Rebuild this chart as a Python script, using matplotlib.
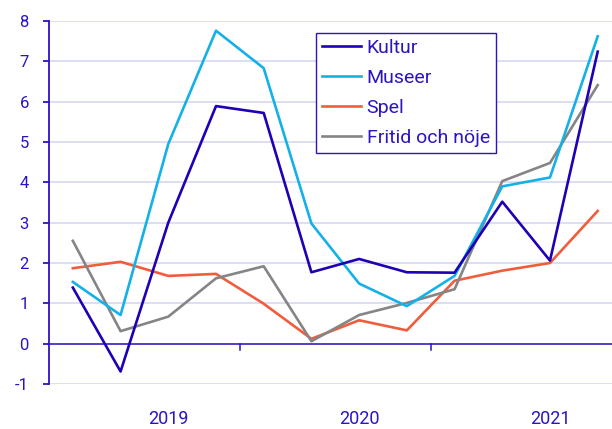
import matplotlib
matplotlib.use('Agg')
import matplotlib.pyplot as plt
import matplotlib.transforms as mtransforms
import numpy as np

plt.rcParams['font.family'] = ['Roboto', 'DejaVu Sans']

# quarterly values, 2019Q1 - 2021Q4
quarters = ['2019Q1', '2019Q2', '2019Q3', '2019Q4',
            '2020Q1', '2020Q2', '2020Q3', '2020Q4',
            '2021Q1', '2021Q2', '2021Q3', '2021Q4']
kultur = [1.39, -0.69, 3.0, 5.89, 5.72, 1.77, 2.1, 1.77, 1.76, 3.52, 2.06, 7.24]
museer = [1.53, 0.71, 4.95, 7.76, 6.83, 2.98, 1.49, 0.93, 1.68, 3.9, 4.12, 7.62]
spel = [1.87, 2.03, 1.68, 1.73, 0.99, 0.12, 0.58, 0.33, 1.56, 1.81, 2.0, 3.29]
fritid = [2.55, 0.31, 0.67, 1.62, 1.92, 0.06, 0.71, 1.01, 1.35, 4.03, 4.48, 6.41]
years = ['2019', '2020', '2021']

txt_col = '#2a14c4'
grid_col = '#d8d8f0'

fig = plt.figure(figsize=(6.12, 4.29), dpi=100)
ax = fig.add_axes([49/612, 1 - 384/429, 1 - 49/612, (384 - 21)/429])

x = np.arange(len(quarters))
ax.plot(x, kultur, color='#1f00b5', lw=1.9, label='Kultur', zorder=5)
ax.plot(x, museer, color='#14b1e6', lw=1.9, label='Museer', zorder=4)
ax.plot(x, spel, color='#f05d3d', lw=1.9, label='Spel', zorder=3)
ax.plot(x, fritid, color='#858585', lw=1.9, label='Fritid och nöje', zorder=3)

ax.set_xlim(-0.5, 11.3)
ax.set_ylim(-1, 8)
ax.set_yticks(range(-1, 9))
ax.set_yticklabels([str(v) for v in range(-1, 9)])
ax.yaxis.grid(True, color=grid_col, lw=1.2)
ax.set_axisbelow(True)

for s in ['top', 'right', 'bottom']:
    ax.spines[s].set_visible(False)
ax.spines['left'].set_color(txt_col)
ax.spines['left'].set_linewidth(1.3)

# zero line acting as x axis
ax.axhline(0, color=txt_col, lw=1.1, zorder=2)
ax.set_xticks([3.5, 7.5])
ax.set_xticklabels([])
ax.tick_params(axis='x', direction='out', length=0)
for xt in [3.5, 7.5]:
    ax.plot([xt, xt], [0, -0.15], color=txt_col, lw=1.1, clip_on=False, zorder=2)

ax.tick_params(axis='y', colors=txt_col, labelcolor=txt_col, length=4.5,
               width=1.3, pad=10, labelsize=12)

trans = mtransforms.blended_transform_factory(ax.transData, fig.transFigure)
for i, yr in enumerate(years):
    ax.text(2 + 4*i, 1 - 424/429, yr, transform=trans, ha='center', va='baseline',
            color=txt_col, fontsize=13)

leg = ax.legend(loc='upper left', bbox_to_anchor=(316/612, 1 - 33/429),
                bbox_transform=fig.transFigure, borderaxespad=0, frameon=True,
                fancybox=False, framealpha=1, edgecolor=txt_col, fontsize=14,
                handlelength=2.0, handletextpad=0.3, labelspacing=0.62, borderpad=0.3)
leg.get_frame().set_linewidth(1.0)
for t in leg.get_texts():
    t.set_color(txt_col)

fig.savefig('out.png', dpi=100)
